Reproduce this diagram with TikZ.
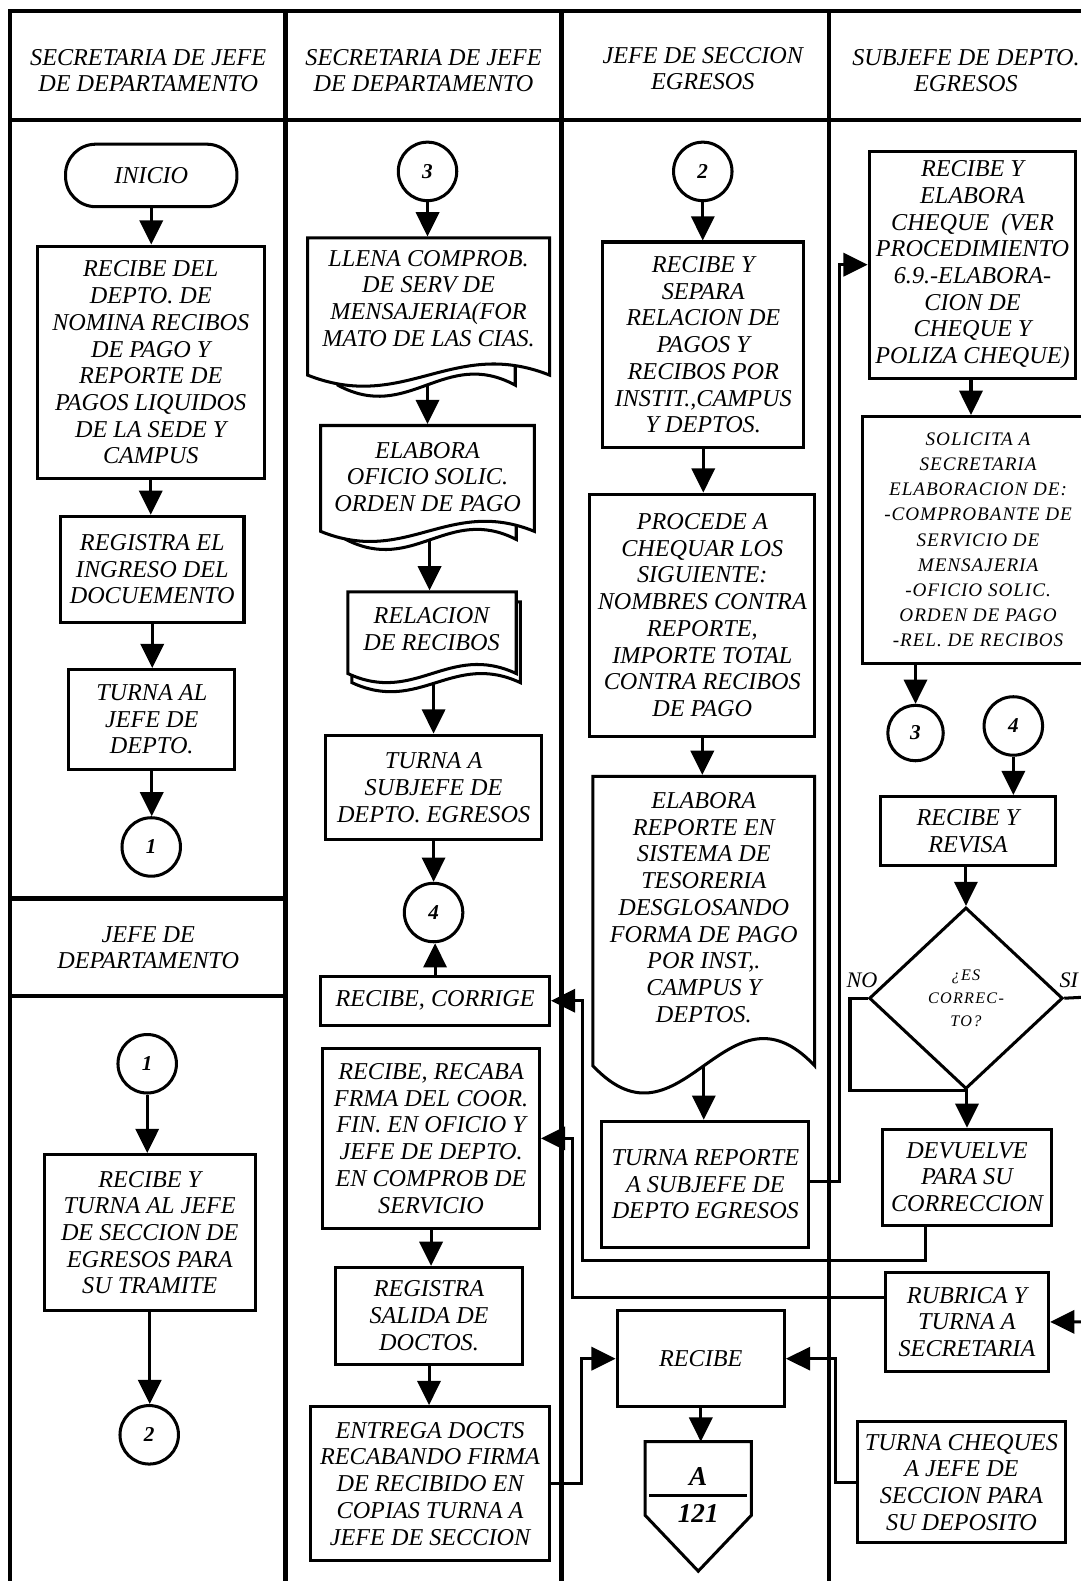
\documentclass[tikz,border=0pt]{standalone}
\usepackage{fontspec}
\setmainfont{Liberation Serif}
\newfontfamily\spacedserif[LetterSpace=5]{Liberation Serif}
\newfontfamily\widesserif[LetterSpace=8]{Liberation Serif}
\usetikzlibrary{arrows.meta,shapes.geometric,calc}

\newcommand{\mainfs}{\fontsize{24}{26.5}\selectfont\itshape}
\newcommand{\smallfs}{\spacedserif\fontsize{19}{25}\selectfont\itshape}
\newcommand{\tinyfs}{\widesserif\fontsize{16}{22.5}\selectfont\itshape}
\newcommand{\numfs}{\fontsize{21}{24}\selectfont\bfseries\itshape}
\newcommand{\offfs}{\fontsize{27}{30}\selectfont\bfseries\itshape}
\newcommand{\lblfs}{\fontsize{22}{24}\selectfont\itshape}

\tikzset{
  frame/.style={line width=4.5pt},
  procbox/.style={draw, line width=3pt, fill=white, align=center, inner sep=0pt, font=\mainfs},
  conn/.style={circle, draw, line width=3pt, minimum size=58pt, inner sep=0pt, fill=white, font=\numfs},
  hdr/.style={align=center, inner sep=0pt, font=\mainfs},
  doctext/.style={align=center, inner sep=0pt, font=\mainfs},
  docline/.style={line width=3pt, fill=white},
  arr/.style={line width=3pt, -{Triangle[length=24pt,width=23pt]}},
  link/.style={line width=3pt},
}

% box from (x1,y1) to (x2,y2), image coordinates
\newcommand{\bnode}[7][]{\node[procbox,minimum width={#5-#3},minimum height={#6-#4},#1] (#2) at ({(#3+#5)/2},{(#4+#6)/2}) {#7};}
% document outline: left, top, right, base, wave amplitude
\newcommand{\docshape}[5]{\filldraw[docline] (#1,#4) -- (#1,#2) -- (#3,#2) -- (#3,#4)
   .. controls ({#1+0.6*(#3-#1)},{#4-3.464*#5}) and ({#1+0.4*(#3-#1)},{#4+3.464*#5}) .. (#1,#4) -- cycle;}

\begin{document}
\begin{tikzpicture}[x=1pt,y=-1pt]
\useasboundingbox (0,0) rectangle (1072,1568);
\clip (0,0) rectangle (1072,1568);
\fill[white] (0,0) rectangle (1072,1568);

% ---------- frame ----------
\draw[frame] (10,1580) -- (10,11) -- (1090,11);
\draw[frame] (10,119) -- (1090,119);
\draw[frame] (283,11) -- (283,1580);
\draw[frame] (557,11) -- (557,1580);
\draw[frame] (822,11) -- (822,1580);
\draw[frame] (10,891) -- (283,891);
\draw[frame] (10,988) -- (283,988);

% ---------- headers ----------
\node[hdr] (h1) at (147,70) {SECRETARIA DE JEFE\\DE DEPARTAMENTO};
\node[hdr] (h2) at (420,70) {SECRETARIA DE JEFE\\DE DEPARTAMENTO};
\node[hdr] (h3) at (697,68) {JEFE DE SECCION\\EGRESOS};
\node[hdr] (h4) at (958,70) {SUBJEFE DE DEPTO.\\EGRESOS};
\node[hdr] (h5) at (147,940) {JEFE DE\\DEPARTAMENTO};

% ---------- column 1 ----------
\bnode[rounded corners=30pt]{inicio}{65}{143}{235}{205}{INICIO}
\bnode{r1}{37}{244}{262}{475}{RECIBE DEL\\DEPTO. DE\\NOMINA RECIBOS\\DE PAGO Y\\REPORTE DE\\PAGOS LIQUIDOS\\DE LA SEDE Y\\CAMPUS}
\bnode{reg}{60}{512}{242}{617}{REGISTRA EL\\INGRESO DEL\\DOCUEMENTO}
\bnode{turna1}{68}{664}{233}{763}{TURNA AL\\JEFE DE\\DEPTO.}
\node[conn] (c1a) at (150,840) {1};
\node[conn] (c1b) at (146,1055) {1};
\bnode{rt}{44}{1145}{253}{1300}{RECIBE Y\\TURNA AL JEFE\\DE SECCION DE\\EGRESOS PARA\\SU TRAMITE}
\node[conn] (c2a) at (148,1423) {2};

% ---------- column 2 ----------
\node[conn] (c3a) at (424,170) {3};
\docshape{335}{246}{511}{382}{11}
\docshape{305}{236}{545}{372}{11}
\bnode[draw=none,fill=none]{doc1}{305}{236}{545}{372}{}
\node[doctext] (doc1t) at (425,296) {LLENA COMPROB.\\DE SERV DE\\MENSAJERIA(FOR\\MATO DE LAS CIAS.};
\docshape{343}{432}{512}{535}{10}
\docshape{318}{422}{530}{527}{10}
\bnode[draw=none,fill=none]{doc2}{318}{422}{530}{527}{}
\node[doctext] (doc2t) at (424,473) {ELABORA\\OFICIO SOLIC.\\ORDEN DE PAGO};
\docshape{349}{597}{516}{677}{9}
\docshape{345}{587}{512}{668}{9}
\bnode[draw=none,fill=none]{doc3}{345}{587}{512}{668}{}
\node[doctext] (doc3t) at (428,624) {RELACION\\DE RECIBOS};
\bnode{tsub}{323}{729}{537}{833}{TURNA A\\SUBJEFE DE\\DEPTO. EGRESOS}
\node[conn] (c4a) at (430,905) {4};
\bnode{corr}{318}{968}{545}{1017}{RECIBE, CORRIGE}
\bnode{recaba}{320}{1040}{535}{1218}{RECIBE, RECABA\\FRMA DEL COOR.\\FIN. EN OFICIO Y\\JEFE DE DEPTO.\\EN COMPROB DE\\SERVICIO}
\bnode{regsal}{333}{1257}{518}{1353}{REGISTRA\\SALIDA DE\\DOCTOS.}
\bnode{entrega}{308}{1395}{545}{1548}{ENTREGA DOCTS\\RECABANDO FIRMA\\DE RECIBIDO EN\\COPIAS TURNA A\\JEFE DE SECCION}

% ---------- column 3 ----------
\node[conn] (c2b) at (697,170) {2};
\bnode{sep}{598}{240}{797}{444}{RECIBE Y\\SEPARA\\RELACION DE\\PAGOS Y\\RECIBOS POR\\INSTIT.,CAMPUS\\Y DEPTOS.}
\bnode{proc}{585}{490}{808}{730}{PROCEDE A\\CHEQUAR LOS\\SIGUIENTE:\\NOMBRES CONTRA\\REPORTE,\\IMPORTE TOTAL\\CONTRA RECIBOS\\DE PAGO}
\docshape{588}{770}{808}{1057}{27}
\bnode[draw=none,fill=none]{docr}{588}{770}{808}{1057}{}
\node[doctext] (docrt) at (698,900) {ELABORA\\REPORTE EN\\SISTEMA DE\\TESORERIA\\DESGLOSANDO\\FORMA DE PAGO\\POR INST,.\\CAMPUS Y\\DEPTOS.};
\bnode{trep}{597}{1112}{802}{1237}{TURNA REPORTE\\A SUBJEFE DE\\DEPTO EGRESOS}
\bnode{recibe}{612}{1300}{778}{1395}{RECIBE}
\node[minimum width=105pt, minimum height=128pt, inner sep=0pt] (offp) at (692.5,1494) {};
\draw[link, fill=white] (offp.north west) -- (offp.north east) -- ($(offp.north east)+(0,73)$)
   -- (offp.south) -- ($(offp.north west)+(0,73)$) -- cycle;
\draw[link] ($(offp.north west)+(4,53)$) -- ($(offp.north east)+(-4,53)$);
\node[font=\offfs, inner sep=0pt] (offa) at (692.5,1464) {A};
\node[font=\offfs, inner sep=0pt] (offn) at (692.5,1501) {121};

% ---------- column 4 ----------
\bnode{elab}{862}{150}{1067}{375}{RECIBE Y\\ELABORA\\CHEQUE\ \ (VER\\PROCEDIMIENTO\\6.9.-ELABORA-\\CION DE\\CHEQUE Y\\POLIZA CHEQUE)}
\bnode[font=\smallfs]{sol}{855}{413}{1085}{658}{SOLICITA A\\SECRETARIA\\ELABORACION DE:\\-COMPROBANTE DE\\SERVICIO DE\\MENSAJERIA\\-OFICIO SOLIC.\\ORDEN DE PAGO\\-REL. DE RECIBOS}
\node[conn, minimum size=55pt] (c3b) at (908,727) {3};
\node[conn] (c4b) at (1005,720) {4};
\bnode{rev}{873}{790}{1047}{858}{RECIBE Y\\REVISA}
\node[draw, shape=diamond, line width=3pt, fill=white, minimum width=192pt, minimum height=180pt,
      inner sep=0pt, align=center, font=\tinyfs] (dia) at (958,990) {¿ES\\CORREC-\\TO?};
\node[font=\lblfs, inner sep=0pt] (lno) at (855,972) {NO};
\node[font=\lblfs, inner sep=0pt] (lsi) at (1060,972) {SI};
\bnode{dev}{875}{1120}{1043}{1215}{DEVUELVE\\PARA SU\\CORRECCION}
\bnode{rub}{878}{1262}{1040}{1360}{RUBRICA Y\\TURNA A\\SECRETARIA}
\bnode{tch}{850}{1410}{1057}{1530}{TURNA CHEQUES\\A JEFE DE\\SECCION PARA\\SU DEPOSITO}

% ---------- connectors ----------
\draw[arr] (inicio.south) -- (inicio.south |- r1.north);
\draw[arr] (r1.south) -- (r1.south |- reg.north);
\draw[arr] (reg.south) -- (reg.south |- turna1.north);
\draw[arr] (turna1.south) -- (turna1.south |- c1a.north);
\draw[arr] (c1b.south) -- (c1b.south |- rt.north);
\draw[arr] (rt.south) -- (rt.south |- c2a.north);

\draw[arr] (c3a.south) -- (c3a.south |- doc1.north);
\coordinate (d1b) at (424,382);
\draw[arr] (d1b) -- (d1b |- doc2.north);
\coordinate (d2b) at (426,535);
\draw[arr] (d2b) -- (d2b |- doc3.north);
\coordinate (d3b) at (430,677);
\draw[arr] (d3b) -- (d3b |- tsub.north);
\draw[arr] (tsub.south) -- (tsub.south |- c4a.north);
\draw[arr] (corr.north) -- (corr.north |- c4a.south);
\draw[arr] (recaba.south) -- (recaba.south |- regsal.north);
\draw[arr] (regsal.south) -- (regsal.south |- entrega.north);
\draw[arr] (entrega.east) -- ++(30,0) |- (recibe.west);

\draw[arr] (c2b.south) -- (c2b.south |- sep.north);
\draw[arr] (sep.south) -- (sep.south |- proc.north);
\draw[arr] (proc.south) -- (proc.south |- docr.north);
\coordinate (drb) at (698,1057);
\draw[arr] (drb) -- (drb |- trep.north);
\draw[arr] (recibe.south) -- (recibe.south |- offp.north);
\coordinate (tra) at (833,1172);
\draw[arr] (trep.east |- tra) -- (tra) |- (elab.west);

\coordinate (ela) at (963,375);
\draw[arr] (ela) -- (ela |- sol.north);
\draw[arr] (c3b |- sol.south) -- (c3b.north);
\draw[arr] (c4b.south) -- (c4b.south |- rev.north);
\draw[arr] (dia |- rev.south) -- (dia.north);
\coordinate (noa) at (843,1082);
\draw[arr] (dia.west) -| (noa) -| (dev.north);
\coordinate (sia) at (1095,988);
\draw[arr] (dia.east) -- (sia) |- (rub.east);
\coordinate (dva) at (918,1250);
\coordinate (dvb) at (578,1250);
\draw[arr] (dva |- dev.south) -- (dva) -- (dvb) |- (corr.east);
\coordinate (rba) at (568,1287);
\draw[arr] (rub.west |- rba) -- (rba) |- (recaba.east);
\draw[arr] (tch.west) -- ++(-20,0) |- (recibe.east);
\end{tikzpicture}
\end{document}
